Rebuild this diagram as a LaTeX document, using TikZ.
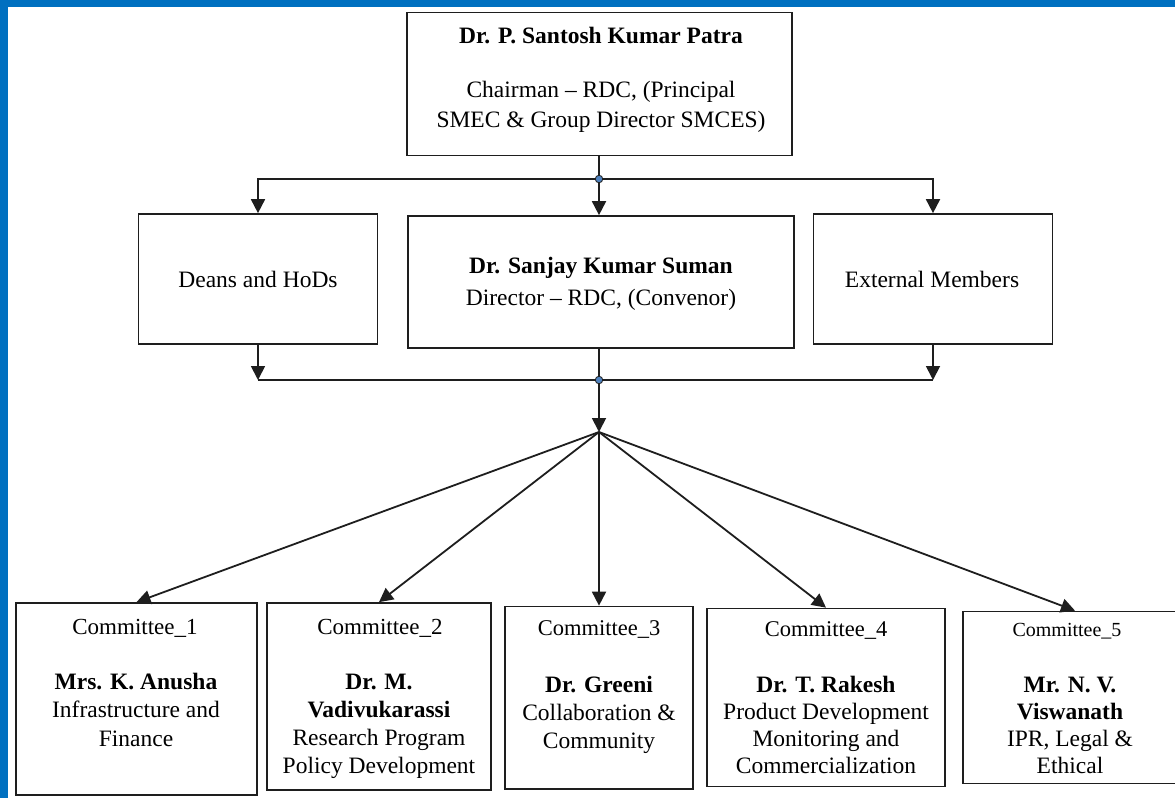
\documentclass[tikz,border=0pt]{standalone}
\usepackage{fontspec}
\setmainfont{Liberation Serif}
\usetikzlibrary{arrows.meta}
\definecolor{frameblue}{HTML}{0070C0}
\definecolor{dotblue}{HTML}{4F81BD}
\definecolor{linegray}{HTML}{1E1E1E}
\begin{document}
\begin{tikzpicture}[x=1pt,y=-1pt,
  box/.style={draw=linegray, line width=1.7pt, rectangle, inner sep=0pt},
  txt/.style={anchor=base, align=center, inner sep=0pt, text=black, font=\fontsize{23.5}{28.5}\selectfont},
  conn/.style={draw=linegray, line width=1.8pt},
  arr/.style={conn, -{Triangle[length=14pt,width=14pt]}},
  jdot/.style={circle, draw=linegray, fill=dotblue, minimum size=7.5pt, inner sep=0pt, line width=0.8pt}]
\useasboundingbox (0,0) rectangle (1175,798);
\fill[white] (0,0) rectangle (1175,798);
\fill[frameblue] (0,0) rectangle (1175,7);
\fill[frameblue] (0,0) rectangle (8,798);

% boxes
\node[box, minimum width=385pt, minimum height=143pt] (top) at (599.5,84) {};
\node[box, minimum width=239pt, minimum height=130pt] (deans) at (258,279) {};
\node[box, minimum width=386pt, minimum height=132pt] (mid) at (601,282) {};
\node[box, minimum width=239pt, minimum height=130pt] (ext) at (933,279) {};
\node[box, minimum width=241pt, minimum height=192pt] (c1) at (136.5,699) {};
\node[box, minimum width=224pt, minimum height=187pt] (c2) at (379,696.5) {};
\node[box, minimum width=188pt, minimum height=182.5pt] (c3) at (599,697.75) {};
\node[box, minimum width=238pt, minimum height=178pt] (c4) at (826,697.5) {};
\node[box, minimum width=215pt, minimum height=172pt] (c5) at (1070.5,697.5) {};

% texts (anchor base = baseline of the last line)
\node[txt] (topname) at (601,43) {\textbf{Dr. P. Santosh Kumar Patra}};
\node[txt, font=\fontsize{23.5}{30}\selectfont] (toprole) at (601,127) {Chairman -- RDC, (Principal\\SMEC \& Group Director SMCES)};
\node[txt] (deanst) at (258,287) {Deans and HoDs};
\node[txt, font=\fontsize{23.5}{32}\selectfont] (midt) at (601,305) {\textbf{Dr. Sanjay Kumar Suman}\\Director -- RDC, (Convenor)};
\node[txt] (extt) at (932,287) {External Members};

\node[txt, font=\fontsize{23}{28}\selectfont] (c1h) at (135,634) {Committee\_1};
\node[txt] (c1t) at (136,746) {\textbf{Mrs. K. Anusha}\\Infrastructure and\\Finance};
\node[txt, font=\fontsize{23}{28}\selectfont] (c2h) at (380,634) {Committee\_2};
\node[txt, font=\fontsize{23.5}{28}\selectfont] (c2t) at (379,773) {\textbf{Dr. M.}\\\textbf{Vadivukarassi}\\Research Program\\Policy Development};
\node[txt, font=\fontsize{22.5}{28}\selectfont] (c3h) at (599,635) {Committee\_3};
\node[txt, font=\fontsize{23.5}{28}\selectfont] (c3t) at (599,748) {\textbf{Dr. Greeni}\\Collaboration \&\\Community};
\node[txt, font=\fontsize{22.5}{28}\selectfont] (c4h) at (826,636) {Committee\_4};
\node[txt, font=\fontsize{23.5}{27}\selectfont] (c4t) at (826,773) {\textbf{Dr. T. Rakesh}\\Product Development\\Monitoring and\\Commercialization};
\node[txt, font=\fontsize{20}{28}\selectfont] (c5h) at (1067,636) {Committee\_5};
\node[txt, font=\fontsize{23.5}{27}\selectfont] (c5t) at (1070,773) {\textbf{Mr. N. V.}\\\textbf{Viswanath}\\IPR, Legal \&\\Ethical};

% connectors
\coordinate (j1) at (599,179);
\coordinate (j2) at (599,380);
\coordinate (fan) at (599,432);
\draw[conn] (top.south -| j1) -- (j1);
\draw[arr] (j1) -| (deans.north);
\draw[arr] (j1) -| (ext.north);
\draw[arr] (j1) -- (j1 |- mid.north);
\draw[arr] (deans.south) -- (deans.south |- j2);
\draw[arr] (ext.south) -- (ext.south |- j2);
\draw[conn] (deans.south |- j2) -- (ext.south |- j2);
\draw[conn] (j2 |- mid.south) -- (j2);
\draw[arr] (j2) -- (fan);
\draw[arr] (fan) -- (c1.north);
\draw[arr] (fan) -- (c2.north);
\draw[arr] (fan) -- (c3.north);
\draw[arr] (fan) -- (c4.north);
\draw[arr] (fan) -- ([xshift=4.5pt]c5.north);
\node[jdot] (j1dot) at (j1) {};
\node[jdot] (j2dot) at (j2) {};
\end{tikzpicture}
\end{document}
